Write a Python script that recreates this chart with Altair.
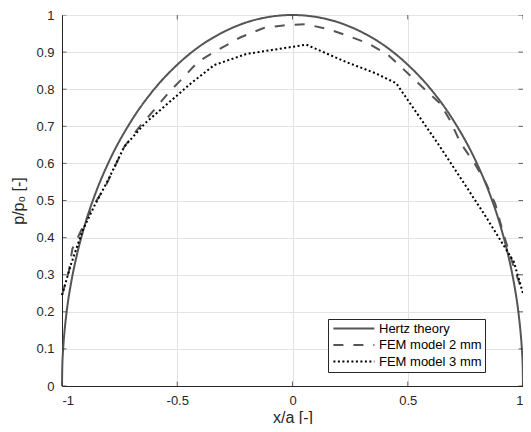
import altair as alt
import pandas as pd

# ---- data ----
hertz_x = [-1, -0.999, -0.995, -0.99, -0.98, -0.96, -0.94, -0.9, -0.85, -0.8, -0.7, -0.6, -0.5, -0.4,
           -0.3, -0.2, -0.1, 0, 0.1, 0.2, 0.3, 0.4, 0.5, 0.6, 0.7, 0.8, 0.85, 0.9, 0.94, 0.96, 0.98,
           0.99, 0.995, 0.999, 1]
hertz_y = [0, 0.045, 0.1, 0.141, 0.199, 0.28, 0.341, 0.436, 0.527, 0.6, 0.714, 0.8, 0.866, 0.917,
           0.954, 0.98, 0.995, 1.0, 0.995, 0.98, 0.954, 0.917, 0.866, 0.8, 0.714, 0.6, 0.527, 0.436,
           0.341, 0.28, 0.199, 0.141, 0.1, 0.045, 0]

fem2_x = [-1, -0.97, -0.955, -0.87, -0.81, -0.73, -0.67, -0.6, -0.54, -0.47, -0.41, -0.34, -0.225,
          -0.125, -0.04, 0.06, 0.16, 0.245, 0.33, 0.416, 0.5, 0.57, 0.64, 0.68, 0.73, 0.79, 0.84,
          0.88, 0.915, 0.964, 1.0]
fem2_y = [0.245, 0.31, 0.37, 0.48, 0.54, 0.645, 0.694, 0.744, 0.789, 0.834, 0.874, 0.90, 0.94,
          0.965, 0.972, 0.975, 0.961, 0.943, 0.923, 0.892, 0.843, 0.802, 0.762, 0.72, 0.654, 0.6,
          0.546, 0.49, 0.41, 0.313, 0.25]

fem3_x = [-1, -0.96, -0.91, -0.86, -0.8, -0.73, -0.64, -0.54, -0.44, -0.34, -0.2, 0.06, 0.23, 0.36,
          0.45, 0.64, 0.83, 0.9, 0.96, 1.0]
fem3_y = [0.245, 0.33, 0.42, 0.485, 0.555, 0.645, 0.708, 0.762, 0.816, 0.865, 0.895, 0.92, 0.874,
          0.843, 0.816, 0.645, 0.465, 0.395, 0.335, 0.25]

series_names = ["Hertz theory", "FEM model 2 mm", "FEM model 3 mm"]
series_colors = ["#555555", "#555555", "#000000"]
series_dash = [[1, 0], [10, 10], [2, 2.5]]

x_ticks = [-1, -0.5, 0, 0.5, 1]
y_ticks = [0, 0.1, 0.2, 0.3, 0.4, 0.5, 0.6, 0.7, 0.8, 0.9, 1]

rows = []
for name, xs, ys in zip(series_names, [hertz_x, fem2_x, fem3_x], [hertz_y, fem2_y, fem3_y]):
    for i, (xv, yv) in enumerate(zip(xs, ys)):
        rows.append({"series": name, "x": xv, "y": yv, "i": i})
df = pd.DataFrame(rows)

xscale = alt.Scale(domain=[-1, 1], nice=False, zero=False)
yscale = alt.Scale(domain=[0, 1], nice=False, zero=False)

label_expr_x = "datum.value < 0 ? '-' + format(-datum.value, '.1~f') : format(datum.value, '.1~f')"

x_axis = alt.Axis(values=x_ticks, labelExpr=label_expr_x, ticks=False,
                  labelPadding=8, titleY=31, titleBaseline="middle")
y_axis = alt.Axis(values=y_ticks, format=".1~f", ticks=False,
                  labelPadding=8, titleX=-44, titleBaseline="middle")

color_enc = alt.Color(
    "series:N",
    scale=alt.Scale(domain=series_names, range=series_colors),
    sort=series_names,
    legend=alt.Legend(
        title=None, orient="none", legendX=266, legendY=304,
        symbolType="M-0.8,0H7.2", symbolSize=105, symbolStrokeWidth=2,
        labelFontSize=13, labelFont="Liberation Sans", labelColor="#000000",
        labelOffset=35, padding=3, rowPadding=2.5,
        strokeColor="#262626", fillColor="#ffffff",
    ),
)
dash_enc = alt.StrokeDash(
    "series:N",
    scale=alt.Scale(domain=series_names, range=series_dash),
    sort=series_names,
    legend=None,
)

hertz = alt.Chart(df[df.series == "Hertz theory"]).mark_line(
    strokeWidth=2, interpolate="monotone"
).encode(
    x=alt.X("x:Q", scale=xscale, title="x/a [-]", axis=x_axis),
    y=alt.Y("y:Q", scale=yscale, title="p/p₀ [-]", axis=y_axis),
    color=color_enc,
    strokeDash=dash_enc,
    order="i:Q",
)

fem = alt.Chart(df[df.series != "Hertz theory"]).mark_line(strokeWidth=2, strokeCap="butt").encode(
    x=alt.X("x:Q", scale=xscale, axis=x_axis),
    y=alt.Y("y:Q", scale=yscale, axis=y_axis),
    color=color_enc,
    strokeDash=dash_enc,
    order="i:Q",
)

ytick_df = pd.DataFrame([{"x": side, "y": v} for side in [-1, 1] for v in y_ticks])
xtick_df = pd.DataFrame([{"x": v, "y": side} for side in [0, 1] for v in x_ticks])

yticks_layer = alt.Chart(ytick_df).mark_tick(
    orient="horizontal", size=9, thickness=1, color="#262626", clip=True
).encode(x=alt.X("x:Q", scale=xscale, axis=x_axis), y=alt.Y("y:Q", scale=yscale, axis=y_axis))
xticks_layer = alt.Chart(xtick_df).mark_tick(
    orient="vertical", size=9, thickness=1, color="#262626", clip=True
).encode(x=alt.X("x:Q", scale=xscale, axis=x_axis), y=alt.Y("y:Q", scale=yscale, axis=y_axis))

chart = alt.layer(hertz, fem, yticks_layer, xticks_layer).properties(
    width=461, height=371,
    autosize=alt.AutoSizeParams(type="none"),
    padding={"left": 54, "top": 7, "right": 0, "bottom": 38},
).configure_view(
    stroke="#262626", strokeWidth=1
).configure_axis(
    grid=True, gridColor="#e3e3e3", gridWidth=1,
    domainColor="#262626", domainWidth=1,
    labelFont="Liberation Sans", labelFontSize=13, labelColor="#262626",
    titleFont="Liberation Sans", titleFontSize=16, titleColor="#262626",
    titleFontWeight="normal",
)

chart.save("out.html", embed_options={"renderer": "svg", "actions": False})
